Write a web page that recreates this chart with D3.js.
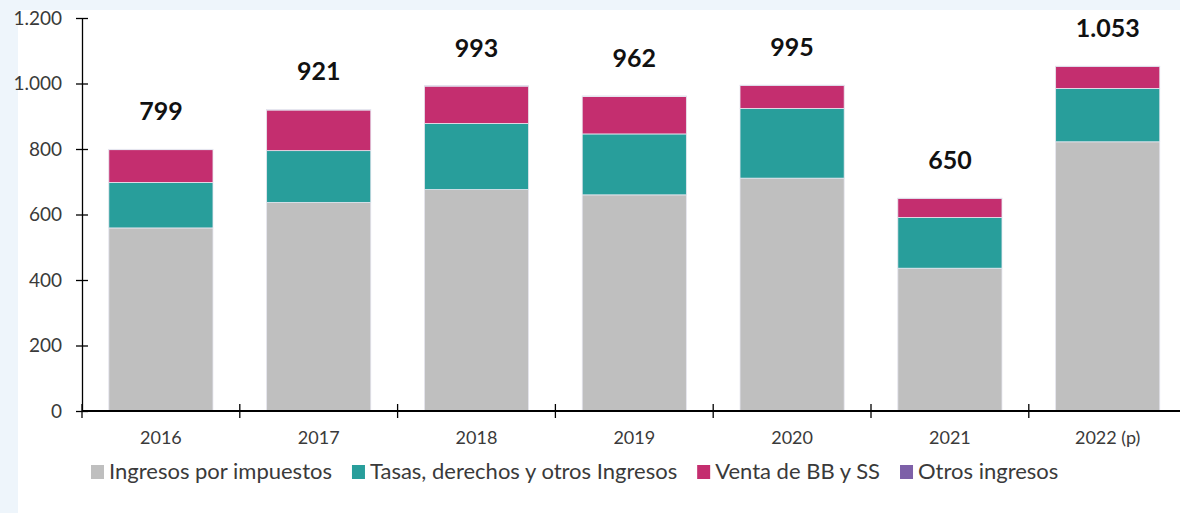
<!DOCTYPE html>
<html>
<head>
<meta charset="utf-8">
<script src="https://cdn.jsdelivr.net/npm/d3@7"></script>
<style>
  body { margin: 0; background: #eef5fb; }
  svg { display: block; }
  text { font-family: Lato, "Open Sans", sans-serif; fill: #3a3a3a; }
</style>
</head>
<body>
<svg width="1180" height="513"></svg>
<script>
var years = ["2016", "2017", "2018", "2019", "2020", "2021", "2022 (p)"];
var impuestos = [559, 637, 676, 660, 711, 436, 822];
var tasas = [139, 158, 202, 186, 213, 155, 163];
var venta = [100, 124, 114, 114, 70, 58, 67];
var otros = [1, 2, 1, 2, 1, 1, 1];
var totals = ["799", "921", "993", "962", "995", "650", "1.053"];
var yTicks = [0, 200, 400, 600, 800, 1000, 1200];
var seriesNames = ["Ingresos por impuestos", "Tasas, derechos y otros Ingresos", "Venta de BB y SS", "Otros ingresos"];
var seriesColors = ["#bfbfbf", "#289e9b", "#c42e6f", "#7d60a8"];

var svg = d3.select("svg");

// light page backdrop, white chart panel
svg.append("rect").attr("x", 18).attr("y", 10).attr("width", 1162).attr("height", 503).attr("fill", "#fff");

var x0 = 82, catW = 157.8;
var x = d3.scaleBand().domain(years).range([x0, x0 + catW * years.length]).paddingInner(0.34).paddingOuter(0.17);
var y = d3.scaleLinear().domain([0, 1200]).range([411, 18]);

var rows = years.map(function(d, i) {
  return { year: d, a: impuestos[i], b: tasas[i], c: venta[i], d: otros[i] };
});
var stack = d3.stack().keys(["a", "b", "c", "d"])(rows);

svg.append("g").selectAll("g")
  .data(stack)
  .enter().append("g")
    .attr("fill", function(d, i) { return seriesColors[i]; })
  .selectAll("rect")
  .data(function(d) { return d; })
  .enter().append("rect")
    .attr("x", function(d) { return x(d.data.year); })
    .attr("width", x.bandwidth())
    .attr("y", function(d) { return y(d[1]); })
    .attr("height", function(d) { return y(d[0]) - y(d[1]); })
    .attr("stroke", "#e6e6ef")
    .attr("stroke-width", 0.8);

// totals above bars
svg.append("g").selectAll("text")
  .data(rows)
  .enter().append("text")
    .attr("x", function(d) { return x(d.year) + x.bandwidth() / 2; })
    .attr("y", function(d) { return y(d.a + d.b + d.c + d.d) - 29; })
    .attr("text-anchor", "middle")
    .style("font-weight", "bold")
    .style("font-size", "25px")
    .style("fill", "#111")
    .text(function(d, i) { return totals[i]; });

// y axis
var yAxis = svg.append("g").attr("transform", "translate(" + x0 + ",0)")
  .call(d3.axisLeft(y).tickValues(yTicks).tickSizeInner(6).tickSizeOuter(0)
    .tickFormat(function(d) { return d3.format(",")(d).replace(/,/g, "."); }));
yAxis.select(".domain").attr("stroke", "#000").attr("stroke-width", 1.3);
yAxis.selectAll(".tick line").attr("x1", 6).attr("x2", -6).attr("stroke", "#000").attr("stroke-width", 1.3);
yAxis.selectAll(".tick text").attr("x", -20).style("font-size", "19px").style("fill", "#3a3a3a");

// x axis with boundary ticks
var bounds = d3.range(years.length + 1).map(function(i) { return x0 + i * catW; });
svg.append("line").attr("x1", x0).attr("x2", 1180).attr("y1", y(0)).attr("y2", y(0))
  .attr("stroke", "#000").attr("stroke-width", 2);
svg.append("g").selectAll("line")
  .data(bounds)
  .enter().append("line")
    .attr("x1", function(d) { return d; }).attr("x2", function(d) { return d; })
    .attr("y1", y(0) - 7).attr("y2", y(0) + 7)
    .attr("stroke", "#000").attr("stroke-width", 1.3);
svg.append("g").selectAll("text")
  .data(years)
  .enter().append("text")
    .attr("x", function(d) { return x(d) + x.bandwidth() / 2; })
    .attr("y", 444)
    .attr("text-anchor", "middle")
    .style("font-size", "18px")
    .text(function(d) { return d; });

// legend
var lx = 91;
var legend = svg.append("g");
seriesNames.forEach(function(name, i) {
  legend.append("rect").attr("x", lx).attr("y", 465).attr("width", 13).attr("height", 14).attr("fill", seriesColors[i]);
  var t = legend.append("text").attr("x", lx + 18).attr("y", 479).style("font-size", "22px").text(name);
  lx += 18 + t.node().getComputedTextLength() + 20;
});
</script>
</body>
</html>
